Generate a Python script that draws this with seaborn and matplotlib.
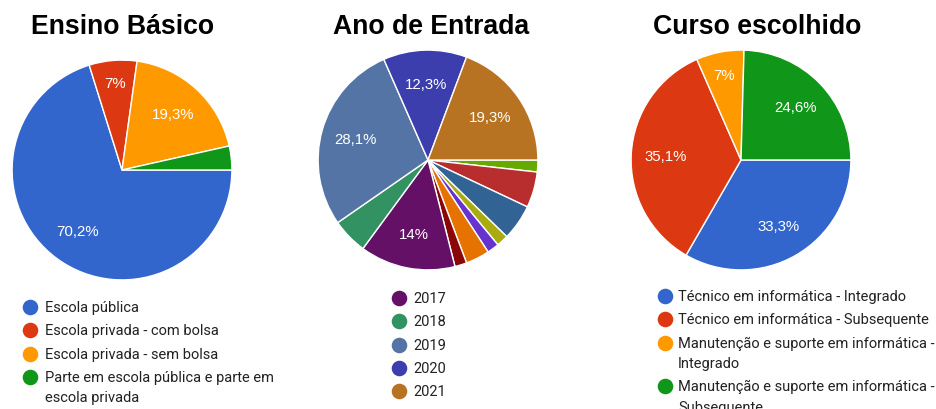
import numpy as np
import matplotlib
matplotlib.use("Agg")
import matplotlib.pyplot as plt
import seaborn as sns
from matplotlib.lines import Line2D

# ---------------- data ----------------
ensino_title = "Ensino Básico"
ensino_labels = ["Escola pública", "Escola privada - com bolsa", "Escola privada - sem bolsa",
                 "Parte em escola pública e parte em\nescola privada"]
ensino_values = [40, 4, 11, 2]

ano_title = "Ano de Entrada"
ano_labels = ["2010", "2011", "2012", "2013", "2014", "2015", "2016",
              "2017", "2018", "2019", "2020", "2021"]
ano_values = [1, 3, 3, 1, 1, 2, 1, 8, 3, 16, 7, 11]
ano_legend = ["2017", "2018", "2019", "2020", "2021"]

curso_title = "Curso escolhido"
curso_labels = ["Técnico em informática - Integrado", "Técnico em informática - Subsequente",
                "Manutenção e suporte em informática -\nIntegrado",
                "Manutenção e suporte em informática -\nSubsequente"]
curso_values = [19, 20, 4, 14]

base_colors = ["#3366cc", "#dc3912", "#ff9900", "#109618"]
ano_colors = ["#66aa00", "#b82e2e", "#316395", "#aaaa11", "#6633cc", "#e67300", "#8b0707",
              "#651067", "#329262", "#5574a6", "#3b3eac", "#b77322"]

# ---------------- style ----------------
sns.set_theme(style="white")
plt.rcParams["font.family"] = ["Roboto", "DejaVu Sans"]

W, H = 937, 410
fig = plt.figure(figsize=(W / 100, H / 100), dpi=100)
fig.patch.set_facecolor("white")

TITLE_FONT = ["Liberation Sans", "DejaVu Sans"]
LABEL_FONT = ["Liberation Sans", "DejaVu Sans"]


def px_axes(cx, cy, r):
    return fig.add_axes([(cx - r) / W, (H - cy - r) / H, 2 * r / W, 2 * r / H])


def fmt_pct(v, total):
    s = f"{v / total * 100:.1f}".replace(".", ",")
    if s.endswith(",0"):
        s = s[:-2]
    return s + "%"


def draw_pie(ax, values, colors, label_min=6.5):
    pal = sns.color_palette(colors)
    total = sum(values)
    wedges, _ = ax.pie(values, colors=pal, startangle=0, counterclock=False, radius=1,
                       wedgeprops=dict(edgecolor="white", linewidth=1.0))
    for w, v in zip(wedges, values):
        pct = v / total * 100
        if pct < label_min:
            continue
        ang = np.deg2rad((w.theta1 + w.theta2) / 2)
        d = 0.69 if pct >= 10 else 0.79
        ax.text(d * np.cos(ang), d * np.sin(ang), fmt_pct(v, total), ha="center", va="center",
                color="white", fontsize=10.8, family=LABEL_FONT)
    ax.set_xlim(-1.01, 1.01)
    ax.set_ylim(-1.01, 1.01)
    ax.set_aspect("equal")
    ax.axis("off")


def draw_title(cx, text):
    fig.text(cx / W, 1 - 27 / H, text, ha="center", va="center", fontsize=19.2,
             fontweight="bold", family=TITLE_FONT, color="black")


def draw_legend(labels, colors, mx, tx, y0, pitch=23.3, gap=20.5):
    y = y0
    for lab, col in zip(labels, colors):
        fig.add_artist(Line2D([mx / W], [1 - y / H], marker="o", markersize=10.2,
                              color=col, linestyle="none", transform=fig.transFigure))
        lines = lab.split("\n")
        for i, line in enumerate(lines):
            fig.text(tx / W, 1 - (y + i * gap) / H, line, ha="left", va="center",
                     fontsize=10.5, color="#222222")
        y += pitch + (len(lines) - 1) * gap


# pie 1
ax1 = px_axes(122, 171, 111)
draw_pie(ax1, ensino_values, base_colors)
draw_title(122.5, ensino_title)
draw_legend(ensino_labels, base_colors, 30.5, 45, 308)

# pie 2
ax2 = px_axes(428, 161, 111)
draw_pie(ax2, ano_values, ano_colors)
draw_title(431.5, ano_title)
leg_idx = [ano_labels.index(l) for l in ano_legend]
draw_legend([ano_labels[i] for i in leg_idx], [ano_colors[i] for i in leg_idx], 399, 413, 299)

# pie 3
ax3 = px_axes(741, 161, 111)
draw_pie(ax3, curso_values, base_colors)
draw_title(757.5, curso_title)
draw_legend(curso_labels, base_colors, 665, 678, 297)

fig.savefig("out.png", dpi=100, facecolor="white")
